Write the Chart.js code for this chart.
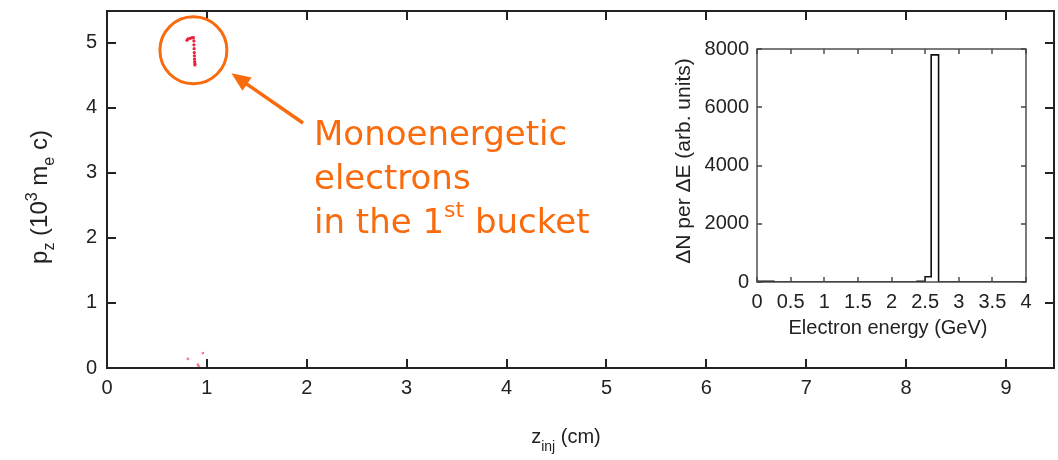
<!DOCTYPE html>
<html>
<head>
<meta charset="utf-8">
<script src="https://cdn.jsdelivr.net/npm/chart.js@4/dist/chart.umd.min.js"></script>
<style>
  html, body { margin: 0; padding: 0; background: #fff; }
  #wrap { position: relative; width: 1058px; height: 460px; }
  #main { position: absolute; left: 0; top: 0; }
  #inset { position: absolute; left: 670px; top: 30px; background: #fff; }
</style>
</head>
<body>
<div id="wrap">
  <canvas id="main" width="1058" height="460"></canvas>
  <canvas id="inset" width="370" height="315"></canvas>
</div>
<script>
// Main panel: p_z versus injection position
const zTicks = [0, 1, 2, 3, 4, 5, 6, 7, 8, 9];
const pTicks = [0, 1, 2, 3, 4, 5];
// dots of the first bucket (z in cm, pz in 10^3 me c)
const bucketZ = [0.80, 0.81, 0.83, 0.85, 0.865, 0.87, 0.87, 0.872, 0.874, 0.875, 0.876, 0.878, 0.88, 0.88];
const bucketP = [5.04, 5.06, 5.07, 5.08, 5.08, 5.03, 4.97, 4.91, 4.85, 4.80, 4.75, 4.71, 4.68, 4.66];
// a few low momentum dots
const lowZ = [0.81, 0.96, 0.91, 0.92];
const lowP = [0.14, 0.23, 0.05, 0.02];

// Inset: energy spectrum (left bin edges in GeV, counts)
const binEdges = [0, 0.25, 2.38, 2.5, 2.59, 2.7, 4];
const binCounts = [25, 0, 25, 180, 7800, 0, 0];
const energyTicks = [0, 0.5, 1, 1.5, 2, 2.5, 3, 3.5, 4];
const countTicks = [0, 2000, 4000, 6000, 8000];

const SANS = '"Liberation Sans", Arial, sans-serif';
const ORANGE = '#f96b0d';

// draw a line of text made of pieces (for sub / superscripts)
function richText(ctx, parts, x, y, angle, color, family, align) {
  ctx.save();
  ctx.translate(x, y);
  ctx.rotate(angle);
  ctx.fillStyle = color;
  ctx.textBaseline = 'alphabetic';
  ctx.textAlign = 'left';
  let w = 0;
  parts.forEach(p => {
    ctx.font = p.size + 'px ' + family;
    p.w = ctx.measureText(p.text).width;
    w += p.w;
  });
  let cx = align === 'left' ? 0 : -w / 2;
  parts.forEach(p => {
    ctx.font = p.size + 'px ' + family;
    ctx.fillText(p.text, cx, p.dy || 0);
    cx += p.w;
  });
  ctx.restore();
}

// box with inward ticks on all four sides
function drawFrame(chart, color, width, len) {
  const { ctx, chartArea: a, scales: { x, y } } = chart;
  ctx.save();
  ctx.strokeStyle = color;
  ctx.lineWidth = width;
  ctx.strokeRect(a.left, a.top, a.right - a.left, a.bottom - a.top);
  ctx.beginPath();
  x.ticks.forEach(t => {
    const px = Math.round(x.getPixelForValue(t.value));
    ctx.moveTo(px, a.bottom); ctx.lineTo(px, a.bottom - len);
    ctx.moveTo(px, a.top); ctx.lineTo(px, a.top + len);
  });
  y.ticks.forEach(t => {
    const py = Math.round(y.getPixelForValue(t.value));
    ctx.moveTo(a.left, py); ctx.lineTo(a.left + len, py);
    ctx.moveTo(a.right, py); ctx.lineTo(a.right - len, py);
  });
  ctx.stroke();
  ctx.restore();
}

// no extra room for edge labels, the plot box is placed by hand
function noPad(s) {
  s.paddingTop = 0; s.paddingBottom = 0; s.paddingLeft = 0; s.paddingRight = 0;
}

const mainDeco = {
  id: 'mainDeco',
  afterDraw(chart) {
    const { ctx, scales: { x, y } } = chart;
    drawFrame(chart, '#222', 2, 9);

    // axis titles
    richText(ctx, [
      { text: 'z', size: 20 },
      { text: 'inj', size: 14, dy: 8 },
      { text: ' (cm)', size: 20 }
    ], 566, 443, 0, '#222', SANS);
    richText(ctx, [
      { text: 'p', size: 24 },
      { text: 'z', size: 16, dy: 7 },
      { text: ' (10', size: 24 },
      { text: '3', size: 16, dy: -10 },
      { text: ' m', size: 24 },
      { text: 'e', size: 16, dy: 7 },
      { text: ' c)', size: 24 }
    ], 47, 197, -Math.PI / 2, '#222', SANS);

    // highlight around the bucket
    const cx = x.getPixelForValue(0.865), cy = y.getPixelForValue(4.885);
    ctx.save();
    ctx.strokeStyle = ORANGE;
    ctx.fillStyle = ORANGE;
    ctx.lineWidth = 3;
    ctx.beginPath();
    ctx.arc(cx, cy, 33.5, 0, Math.PI * 2);
    ctx.stroke();

    // arrow from the text to the circle
    const tx = 303, ty = 123, hx = cx + 38, hy = cy + 23;
    const ang = Math.atan2(hy - ty, hx - tx);
    ctx.lineWidth = 3.5;
    ctx.beginPath();
    ctx.moveTo(tx, ty);
    ctx.lineTo(hx - 14 * Math.cos(ang), hy - 14 * Math.sin(ang));
    ctx.stroke();
    ctx.beginPath();
    ctx.moveTo(hx, hy);
    ctx.lineTo(hx - 19 * Math.cos(ang) + 8 * Math.sin(ang), hy - 19 * Math.sin(ang) - 8 * Math.cos(ang));
    ctx.lineTo(hx - 19 * Math.cos(ang) - 8 * Math.sin(ang), hy - 19 * Math.sin(ang) + 8 * Math.cos(ang));
    ctx.closePath();
    ctx.fill();
    ctx.restore();

    const font = '"DejaVu Sans", Verdana, sans-serif';
    richText(ctx, [{ text: 'Monoenergetic', size: 34 }], 314, 145, 0, ORANGE, font, 'left');
    richText(ctx, [{ text: 'electrons', size: 34 }], 314, 189, 0, ORANGE, font, 'left');
    richText(ctx, [
      { text: 'in the 1', size: 34 },
      { text: 'st', size: 22, dy: -16 },
      { text: ' bucket', size: 34 }
    ], 314, 233, 0, ORANGE, font, 'left');
  }
};

new Chart(document.getElementById('main'), {
  type: 'scatter',
  data: {
    datasets: [
      {
        data: bucketZ.map((z, i) => ({ x: z, y: bucketP[i] })),
        backgroundColor: '#f0203a',
        borderWidth: 0,
        pointRadius: 1.6
      },
      {
        data: lowZ.map((z, i) => ({ x: z, y: lowP[i] })),
        backgroundColor: 'rgba(240, 40, 70, 0.6)',
        borderWidth: 0,
        pointRadius: 1.4
      }
    ]
  },
  options: {
    responsive: false,
    animation: false,
    devicePixelRatio: 1,
    layout: { padding: { top: 11, right: 1, left: 0, bottom: 0 } },
    plugins: { legend: { display: false }, tooltip: { enabled: false } },
    scales: {
      x: {
        type: 'linear',
        min: 0,
        max: 9.48,
        grid: { display: false },
        border: { display: false },
        afterBuildTicks: s => { s.ticks = zTicks.map(v => ({ value: v })); },
        afterFit: s => { s.height = 92; noPad(s); },
        ticks: { color: '#222', padding: 0, autoSkip: false, maxRotation: 0, font: { family: SANS, size: 20 }, callback: v => String(v) }
      },
      y: {
        min: 0,
        max: 5.49,
        grid: { display: false },
        border: { display: false },
        afterBuildTicks: s => { s.ticks = pTicks.map(v => ({ value: v })); },
        afterFit: s => { s.width = 107; noPad(s); },
        ticks: { color: '#222', padding: 2, font: { family: SANS, size: 20 }, callback: v => String(v) }
      }
    }
  },
  plugins: [mainDeco]
});

const insetDeco = {
  id: 'insetDeco',
  afterDraw(chart) {
    const { ctx } = chart;
    drawFrame(chart, '#444', 1.4, 5);
    richText(ctx, [{ text: 'Electron energy (GeV)', size: 20 }], 218, 304, 0, '#222', SANS);
    richText(ctx, [{ text: '\u0394N per \u0394E (arb. units)', size: 21 }], 20, 131, -Math.PI / 2, '#222', SANS);
  }
};

new Chart(document.getElementById('inset'), {
  type: 'line',
  data: {
    datasets: [{
      data: binEdges.map((e, i) => ({ x: e, y: binCounts[i] })),
      stepped: 'before',
      borderColor: '#111',
      borderWidth: 1.6,
      pointRadius: 0,
      fill: false
    }]
  },
  options: {
    responsive: false,
    animation: false,
    devicePixelRatio: 1,
    layout: { padding: { top: 19, right: 14, left: 0, bottom: 0 } },
    plugins: { legend: { display: false }, tooltip: { enabled: false } },
    scales: {
      x: {
        type: 'linear',
        min: 0,
        max: 4,
        grid: { display: false },
        border: { display: false },
        afterBuildTicks: s => { s.ticks = energyTicks.map(v => ({ value: v })); },
        afterFit: s => { s.height = 63; noPad(s); },
        ticks: { color: '#222', padding: 0, autoSkip: false, maxRotation: 0, minRotation: 0, font: { family: SANS, size: 20 }, callback: v => String(v) }
      },
      y: {
        min: 0,
        max: 8000,
        grid: { display: false },
        border: { display: false },
        afterBuildTicks: s => { s.ticks = countTicks.map(v => ({ value: v })); },
        afterFit: s => { s.width = 87; noPad(s); },
        ticks: { color: '#222', padding: 0, font: { family: SANS, size: 20 }, callback: v => String(v) }
      }
    }
  },
  plugins: [insetDeco]
});
</script>
</body>
</html>
